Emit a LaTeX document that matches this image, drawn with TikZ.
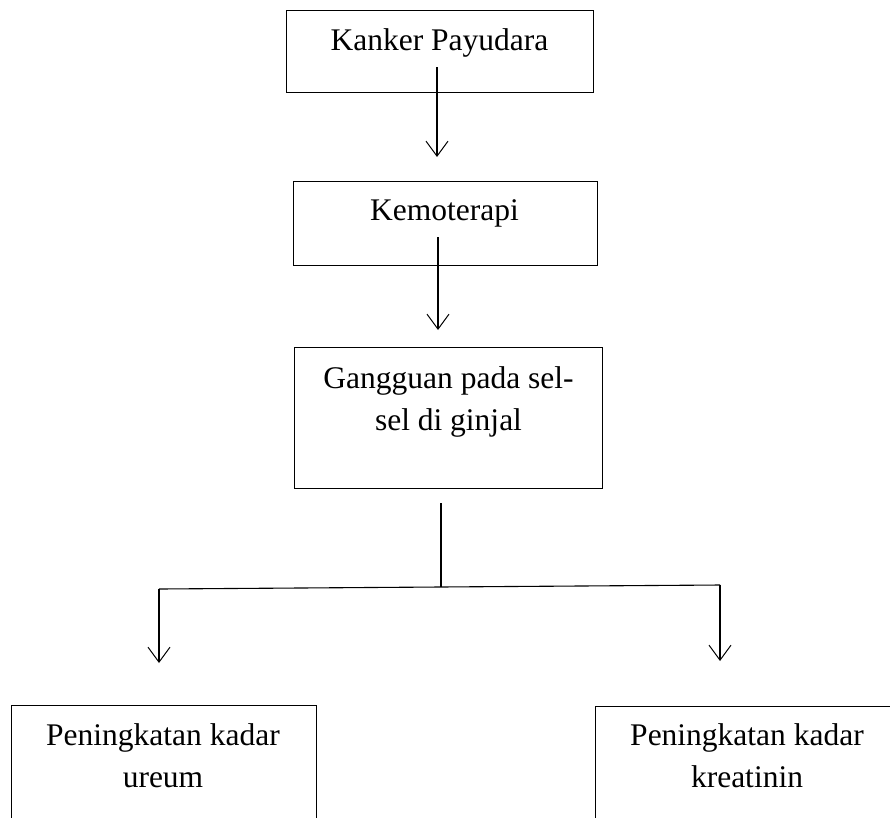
\documentclass[tikz,border=0pt]{standalone}
\usepackage{fontspec}
\setmainfont{Liberation Serif}
\usetikzlibrary{arrows.meta}
\begin{document}
\begin{tikzpicture}[x=1pt,y=-1pt,line width=1.1pt,
  box/.style={draw,line width=1.1pt,inner sep=0pt,anchor=north west},
  lbl/.style={anchor=base,inner sep=0pt,font=\fontsize{31.5}{42}\selectfont},
  arr/.style={-{Straight Barb[length=15pt,width=22pt,line width=1pt]}},
  conn/.style={line width=1.1pt}
]
\useasboundingbox (0,0) rectangle (890,817);
% boxes
\node[box,minimum width=307pt,minimum height=82pt] (b1) at (286,10) {};
\node[box,minimum width=304pt,minimum height=84pt] (b2) at (293,181) {};
\node[box,minimum width=308pt,minimum height=141pt] (b3) at (294,347) {};
\node[box,minimum width=305pt,minimum height=150pt] (b4) at (11,705) {};
\node[box,minimum width=330pt,minimum height=150pt] (b5) at (595,706) {};
% texts
\node[lbl] (t1) at (439.5,50) {Kanker Payudara};
\node[lbl] (t2) at (444.5,220) {Kemoterapi};
\node[lbl] (t3) at (448.5,388) {\begin{tabular}[t]{@{}c@{}}Gangguan pada sel-\\sel di ginjal\end{tabular}};
\node[lbl] (t4) at (163,745) {\begin{tabular}[t]{@{}c@{}}Peningkatan kadar\\ureum\end{tabular}};
\node[lbl] (t5) at (747,745) {\begin{tabular}[t]{@{}c@{}}Peningkatan kadar\\kreatinin\end{tabular}};
% connector points
\coordinate (a1s) at (437,67);
\coordinate (a1e) at (437,157);
\coordinate (a2s) at (438,237);
\coordinate (a2e) at (438,330);
\coordinate (vs) at (441,503);
\coordinate (vj) at (441,587);
\coordinate (hl) at (159,589);
\coordinate (hr) at (720,585);
\coordinate (le) at (159,663);
\coordinate (re) at (720,661);
% connectors
\draw[arr] (a1s) -- (a1e);
\draw[arr] (a2s) -- (a2e);
\draw[conn] (vs) -- (vj);
\draw[conn] (hl) -- (hr);
\draw[arr] (hl) -- (le);
\draw[arr] (hr) -- (re);
\end{tikzpicture}
\end{document}
